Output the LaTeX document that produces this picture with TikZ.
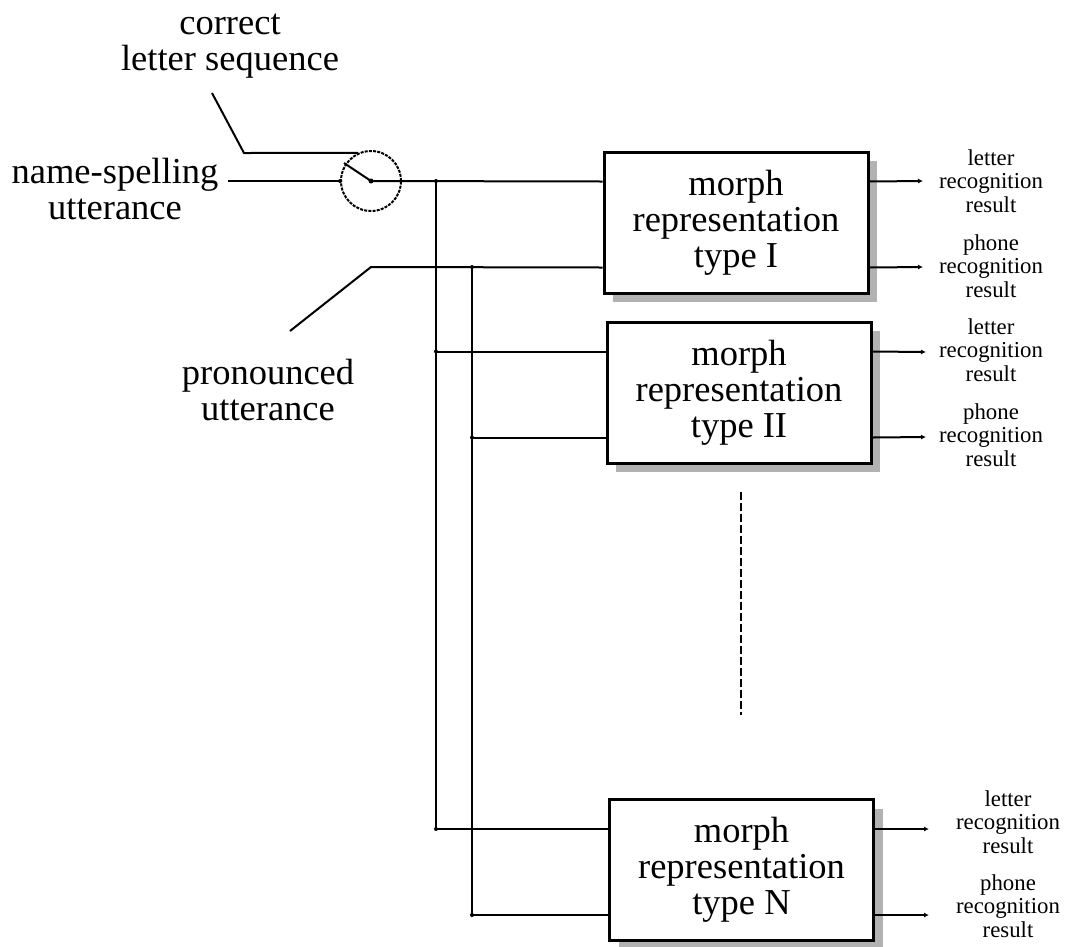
\documentclass[tikz,border=0pt]{standalone}
\usepackage{fontspec}
\setmainfont{Liberation Serif}
\usetikzlibrary{calc,arrows.meta,shadows}

\tikzset{
  bigtext/.style={font=\fontsize{36.5}{36}\selectfont, align=center, inner sep=0pt},
  smalltext/.style={font=\fontsize{22.8}{23.5}\selectfont, align=center, inner sep=0pt},
  morphbox/.style={draw, line width=3pt, fill=white, minimum width=264pt,
    minimum height=141pt, inner sep=0pt,
    font=\fontsize{36.5}{36}\selectfont, align=center,
    general shadow={fill=black!30, shadow xshift=9pt, shadow yshift=-9pt}},
  wire/.style={line width=2pt},
  outwire/.style={line width=2pt, -{Latex[length=5pt,width=5pt]}},
  junction/.style={circle, fill=black, inner sep=0pt, minimum size=4pt},
  switchring/.style={circle, draw, line width=2pt, dash pattern=on 3pt off 1.2pt,
    minimum size=60pt, inner sep=0pt},
}

\begin{document}
\begin{tikzpicture}[x=1pt, y=-1pt]
\useasboundingbox (0,0) rectangle (1068,946);

% processing blocks
\node[morphbox] (b1) at (736,222.5) {morph\\representation\\type I};
\node[morphbox] (b2) at (739,392.5) {morph\\representation\\type II};
\node[morphbox] (bn) at (741.5,870) {morph\\representation\\type N};

% input and output points on each block
\foreach \b in {b1,b2,bn} {
  \coordinate (\b-in1)  at ($(\b.west)+(0,-41)$);
  \coordinate (\b-in2)  at ($(\b.west)+(0,45)$);
  \coordinate (\b-out1) at ($(\b.east)+(0,-41)$);
  \coordinate (\b-out2) at ($(\b.east)+(0,45)$);
}

% selector switch
\node[switchring] (sw) at (371,181) {};
\coordinate (arm) at (344,163);
\draw[wire] (sw.center) -- (arm);
\node[junction, minimum size=5pt] at (sw.center) {};

% signal sources
\node[bigtext] (corr) at (230,46) {correct\\letter sequence};
\node[bigtext] (name) at (115,189) {name-spelling\\utterance};
\node[bigtext] (pron) at (268,390) {pronounced\\utterance};

\coordinate (corrA) at (212,93);
\coordinate (corrB) at (244,153);
\draw[wire] (corrA) -- (corrB) -- (sw.115);

\coordinate (nameA) at (228,181);
\draw[wire] (nameA) -- (sw.west);
\node[junction] at (sw.west) {};

\coordinate (pronA) at (290,331);
\coordinate (pronB) at (371,267);
\draw[wire] (pronA) -- (pronB) -- (b1-in2);

% distribution buses
\coordinate (bus1) at (436,181);
\coordinate (bus2) at (472,267);
\draw[wire] (sw.center) -- (b1-in1);
\draw[wire] (bus1) -- (bus1 |- bn-in1);
\draw[wire] (bus2) -- (bus2 |- bn-in2);
\draw[wire] (bus1 |- b2-in1) -- (b2-in1);
\draw[wire] (bus2 |- b2-in2) -- (b2-in2);
\draw[wire] (bus1 |- bn-in1) -- (bn-in1);
\draw[wire] (bus2 |- bn-in2) -- (bn-in2);
\node[junction] at (bus1) {};
\node[junction] at (bus2) {};
\node[junction] at (bus1 |- b2-in1) {};
\node[junction] at (bus2 |- b2-in2) {};
\node[junction] at (bus1 |- bn-in1) {};
\node[junction] at (bus2 |- bn-in2) {};

% outputs
\coordinate (e1a) at (923,181);
\coordinate (e1b) at (923,267);
\coordinate (e2a) at (926,352);
\coordinate (e2b) at (926,437);
\coordinate (ena) at (929,829);
\coordinate (enb) at (929,915);
\draw[outwire] (b1-out1) -- (e1a);
\draw[outwire] (b1-out2) -- (e1b);
\draw[outwire] (b2-out1) -- (e2a);
\draw[outwire] (b2-out2) -- (e2b);
\draw[outwire] (bn-out1) -- (ena);
\draw[outwire] (bn-out2) -- (enb);

\node[smalltext] (l1a) at (991,181) {letter\\recognition\\result};
\node[smalltext] (l1b) at (991,266) {phone\\recognition\\result};
\node[smalltext] (l2a) at (991,350) {letter\\recognition\\result};
\node[smalltext] (l2b) at (991,435) {phone\\recognition\\result};
\node[smalltext] (lna) at (1008,822) {letter\\recognition\\result};
\node[smalltext] (lnb) at (1008,906) {phone\\recognition\\result};

% continuation marker between the blocks
\coordinate (dotsA) at (741,492);
\coordinate (dotsB) at (741,715);
\draw[line width=2pt, dash pattern=on 8pt off 3pt] (dotsA) -- (dotsB);
\end{tikzpicture}
\end{document}
